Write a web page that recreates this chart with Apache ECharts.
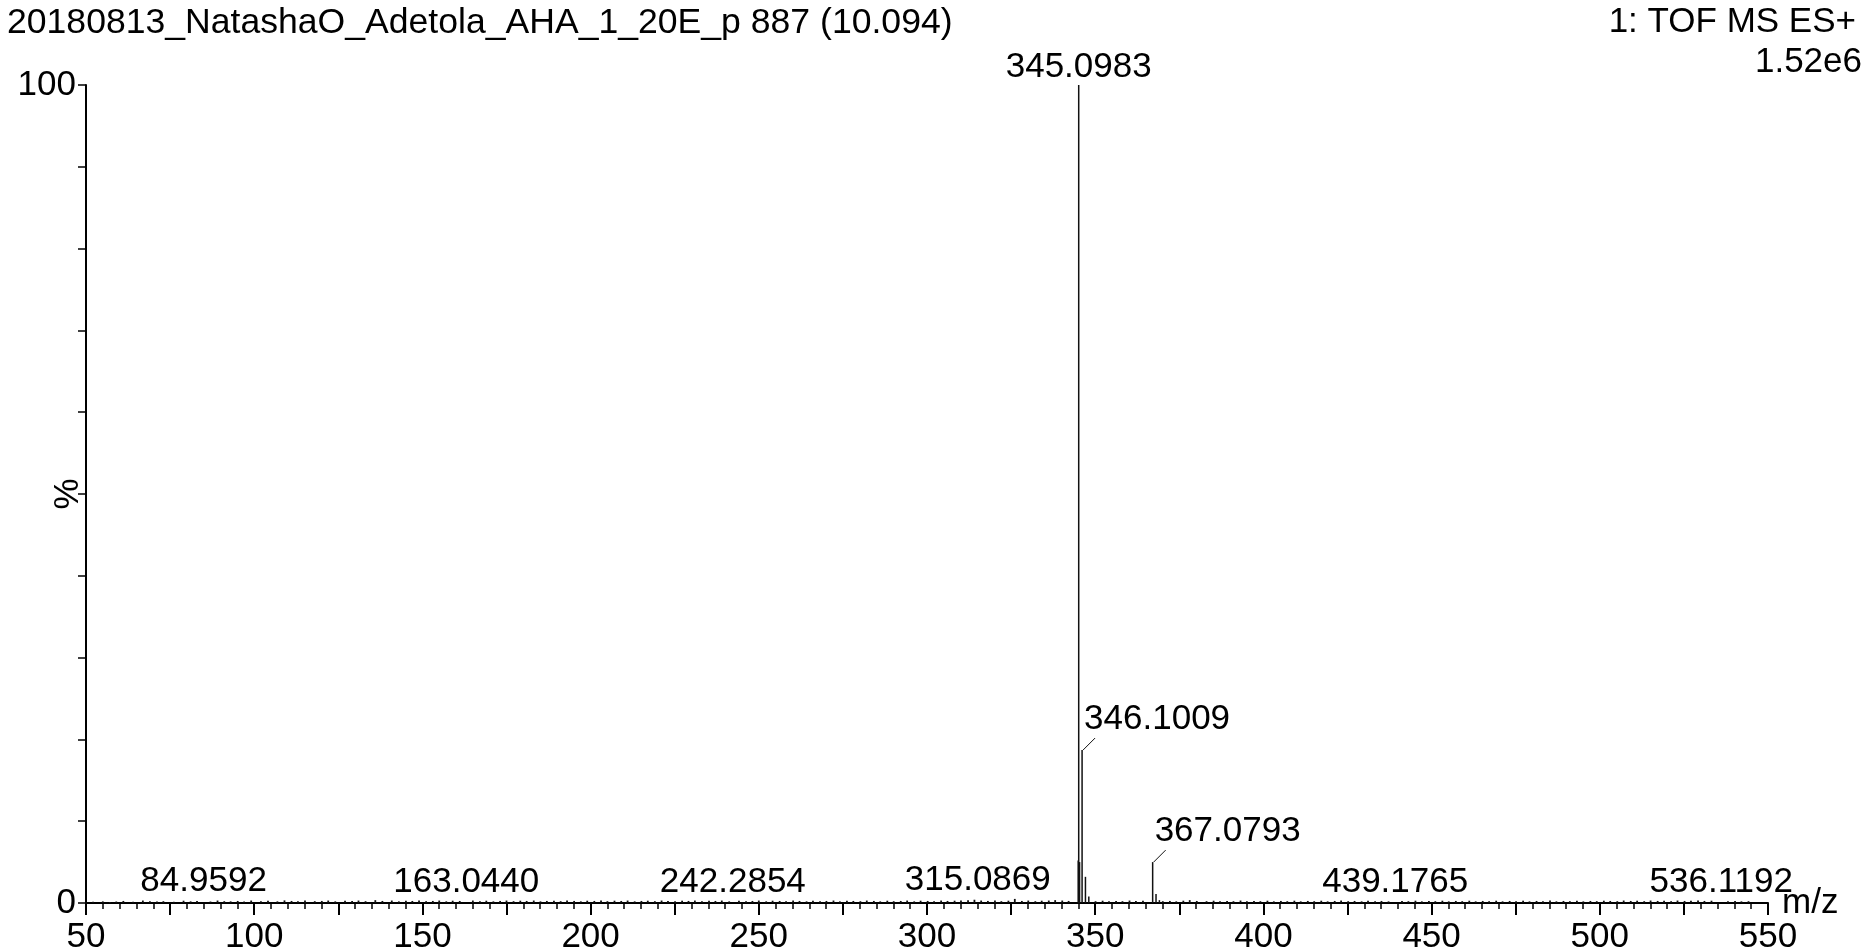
<!DOCTYPE html>
<html>
<head>
<meta charset="utf-8">
<script src="https://cdn.jsdelivr.net/npm/echarts@6/dist/echarts.min.js"></script>
<style>
html,body{margin:0;padding:0;background:#fff;}
#chart{width:1865px;height:952px;}
</style>
</head>
<body>
<div id="chart"></div>
<script>
// ---- data ----
const titleText = '20180813_NatashaO_Adetola_AHA_1_20E_p 887 (10.094)';
const instrumentText = '1: TOF MS ES+';
const intensityText = '1.52e6';
const xTickLabels = [50, 100, 150, 200, 250, 300, 350, 400, 450, 500, 550];
const yTickLabels = [0, 100];

// major peaks (m/z, relative %)
const majorMz        = [344.95, 345.0983, 345.35, 346.1009, 347.10, 348.10, 367.0793, 368.08, 369.08];
const majorIntensity = [5.2,    100,      5.0,    18.7,     3.2,    0.8,    5.0,      1.1,    0.35];

// labelled peaks
const labelMz        = [84.9592, 163.0440, 242.2854, 315.0869, 345.0983, 346.1009, 367.0793, 439.1765, 536.1192];
const labelIntensity = [0.45,    0.40,     0.35,     0.65,     100,      18.7,     5.0,      0.35,     0.35];
const labelText      = ['84.9592','163.0440','242.2854','315.0869','345.0983','346.1009','367.0793','439.1765','536.1192'];

// baseline noise peaks (m/z)
const noiseMz = [
  52.1,55.0,57.1,59.0,61.1,64.0,66.9,69.0,71.1,73.0,76.1,79.0,81.1,83.0,87.0,89.1,91.1,93.0,95.1,97.0,
  99.1,102.0,104.1,106.9,109.0,111.1,113.0,115.1,118.0,120.1,122.0,124.1,127.0,129.1,131.0,133.1,136.0,
  138.1,140.9,143.0,145.1,147.0,149.0,151.1,153.1,155.0,157.1,159.0,161.1,165.0,167.1,169.0,171.1,
  173.1,175.0,177.1,179.1,181.0,183.1,185.1,187.0,189.1,191.1,193.0,195.1,197.1,199.0,201.1,203.1,
  205.0,207.1,209.1,211.0,213.1,215.1,217.0,219.1,221.1,223.0,225.1,227.2,229.1,231.0,233.1,235.2,
  237.1,239.0,241.2,244.1,246.2,248.1,250.0,252.2,254.1,256.2,258.1,260.2,262.1,264.2,266.1,268.2,
  270.1,272.2,274.1,276.2,278.1,280.2,282.1,284.2,286.1,288.2,290.1,292.2,294.1,296.2,298.1,300.2,
  302.1,304.2,306.1,308.2,310.1,312.2,314.1,316.1,318.1,320.2,322.1,324.2,326.1,328.2,330.1,332.2,
  334.1,336.2,338.1,340.2,342.1,350.1,352.2,354.1,356.2,358.1,360.2,362.1,364.2,370.1,372.2,374.1,
  376.2,378.1,380.2,383.1,385.2,387.1,389.2,391.1,393.2,395.1,397.2,399.1,401.2,403.1,405.2,407.1,
  409.2,411.1,413.2,415.1,417.2,419.1,421.2,423.1,425.2,427.1,429.2,431.1,433.2,435.1,437.2,441.2,
  443.1,445.2,447.1,449.2,451.1,453.2,455.1,457.2,459.1,461.2,463.1,465.2,467.1,469.2,471.1,473.2,
  475.1,477.2,479.1,481.2,483.1,485.2,487.1,489.2,491.1,493.2,495.1,497.2,499.1,501.2,503.1,505.2,
  507.1,509.2,511.1,513.2,515.1,517.2,519.1,521.2,523.1,525.2,527.1,529.2,531.1,533.2,538.1,540.2,
  542.1,544.2,546.1,548.2
];
// baseline noise peaks (relative %)
const noiseIntensity = [
  0.15,0.2,0.12,0.18,0.25,0.15,0.3,0.2,0.18,0.22,0.15,0.28,0.2,0.25,0.18,0.3,0.22,0.2,0.25,0.18,
  0.3,0.22,0.28,0.2,0.32,0.25,0.2,0.3,0.22,0.25,0.3,0.2,0.28,0.25,0.3,0.22,0.35,
  0.25,0.3,0.2,0.28,0.25,0.3,0.22,0.25,0.3,0.2,0.28,0.25,0.3,0.22,0.28,0.2,
  0.25,0.3,0.22,0.28,0.25,0.3,0.2,0.25,0.28,0.22,0.3,0.25,0.2,0.28,0.25,0.3,
  0.22,0.28,0.25,0.3,0.2,0.25,0.28,0.22,0.3,0.25,0.2,0.28,0.25,0.3,0.22,0.28,
  0.25,0.3,0.2,0.28,0.22,0.25,0.3,0.2,0.28,0.25,0.22,0.3,0.25,0.2,0.28,0.22,
  0.25,0.3,0.2,0.28,0.25,0.22,0.3,0.25,0.2,0.28,0.22,0.25,0.3,0.2,0.28,0.25,
  0.22,0.3,0.25,0.28,0.3,0.35,0.4,0.3,0.25,0.3,0.22,0.28,0.5,0.25,
  0.3,0.22,0.28,0.3,0.35,0.3,0.25,0.22,0.28,0.2,0.25,0.22,0.3,0.25,0.28,0.22,
  0.25,0.2,0.28,0.35,0.25,0.22,0.28,0.2,0.25,0.22,0.3,0.2,0.25,0.22,0.28,0.2,
  0.25,0.22,0.28,0.2,0.25,0.22,0.28,0.2,0.25,0.3,0.22,0.25,0.2,0.28,0.22,0.25,
  0.2,0.25,0.22,0.28,0.2,0.25,0.22,0.28,0.2,0.25,0.22,0.28,0.2,0.25,0.22,0.28,
  0.2,0.25,0.22,0.28,0.2,0.25,0.22,0.3,0.2,0.25,0.22,0.28,0.2,0.25,0.22,0.28,
  0.25,0.22,0.3,0.25,0.28,0.22,0.3,0.25,0.28,0.22,0.3,0.25,0.28,0.3,0.25,0.28,
  0.22,0.25,0.2,0.22
];

// ---- chart ----
const FONT = "'Liberation Sans', Arial, sans-serif";
const FS = 35;
const TITLE_FS = 35.6;
const INK = '#000';
const leaderLabels = ['346.1009', '367.0793'];

const chart = echarts.init(document.getElementById('chart'), null, {renderer: 'canvas'});

function stickSeries(mz, inten, width, z) {
  return {
    type: 'custom',
    z: z,
    clip: true,
    data: mz.map((m, i) => [m, inten[i]]),
    renderItem: function (params, api) {
      const top = api.coord([api.value(0), api.value(1)]);
      const base = api.coord([api.value(0), 0]);
      return {
        type: 'line',
        shape: {x1: top[0], y1: top[1], x2: base[0], y2: base[1]},
        style: {stroke: '#111', lineWidth: width}
      };
    }
  };
}

const labelSeries = {
  type: 'custom',
  z: 10,
  clip: false,
  data: labelMz.map((m, i) => [m, labelIntensity[i], labelText[i]]),
  renderItem: function (params, api) {
    const p = api.coord([api.value(0), api.value(1)]);
    const txt = labelText[params.dataIndex];
    if (leaderLabels.indexOf(txt) >= 0) {
      return {
        type: 'group',
        children: [
          {type: 'line', shape: {x1: p[0] + 1, y1: p[1], x2: p[0] + 13, y2: p[1] - 12},
           style: {stroke: '#111', lineWidth: 1}},
          {type: 'text', x: p[0] + 2, y: p[1] - 31,
           style: {text: txt, font: FS + 'px ' + FONT, fill: INK, align: 'left', verticalAlign: 'middle'}}
        ]
      };
    }
    return {
      type: 'text', x: p[0], y: p[1],
      style: {text: txt, font: FS + 'px ' + FONT, fill: INK, align: 'center', verticalAlign: 'bottom'}
    };
  }
};

const option = {
  backgroundColor: '#fff',
  animation: false,
  title: [
    {text: titleText, left: 7, top: 5, padding: 0,
     textStyle: {fontFamily: FONT, fontSize: TITLE_FS, fontWeight: 'normal', color: INK}},
    {text: instrumentText, right: 9, top: 5, padding: 0,
     textStyle: {fontFamily: FONT, fontSize: FS, fontWeight: 'normal', color: INK}},
    {text: intensityText, right: 3, top: 45, padding: 0,
     textStyle: {fontFamily: FONT, fontSize: FS, fontWeight: 'normal', color: INK}}
  ],
  grid: {left: 86, right: 97, top: 85, bottom: 49, containLabel: false, outerBoundsMode: 'none'},
  xAxis: {
    type: 'value', min: 50, max: 550, interval: 25,
    name: 'm/z', nameLocation: 'end', nameGap: 14, nameMoveOverlap: false,
    nameTextStyle: {fontFamily: FONT, fontSize: FS, color: INK},
    axisLine: {show: true, onZero: false, lineStyle: {color: INK, width: 2}},
    axisTick: {show: true, inside: false, length: 12, lineStyle: {color: INK, width: 2}},
    minorTick: {show: true, splitNumber: 5, length: 6, lineStyle: {color: INK, width: 1.5}},
    axisLabel: {
      margin: 17, fontFamily: FONT, fontSize: FS, color: INK,
      showMinLabel: true, showMaxLabel: true,
      formatter: v => (xTickLabels.indexOf(v) >= 0 ? String(v) : '')
    },
    splitLine: {show: false}
  },
  yAxis: {
    type: 'value', min: 0, max: 100, interval: 10,
    name: '%', nameLocation: 'middle', nameRotate: 90, nameGap: 0, nameMoveOverlap: false,
    nameTextStyle: {fontFamily: FONT, fontSize: FS, color: INK},
    axisLine: {show: true, lineStyle: {color: INK, width: 2}},
    axisTick: {show: true, inside: false, length: 8, lineStyle: {color: INK, width: 1.5}},
    axisLabel: {
      margin: 10, fontFamily: FONT, fontSize: FS, color: INK,
      formatter: v => (yTickLabels.indexOf(v) >= 0 ? String(v) : '')
    },
    splitLine: {show: false}
  },
  series: [
    stickSeries(noiseMz, noiseIntensity, 1.8, 2),
    stickSeries(majorMz, majorIntensity, 1.5, 3),
    labelSeries
  ]
};
chart.setOption(option);
</script>
</body>
</html>
